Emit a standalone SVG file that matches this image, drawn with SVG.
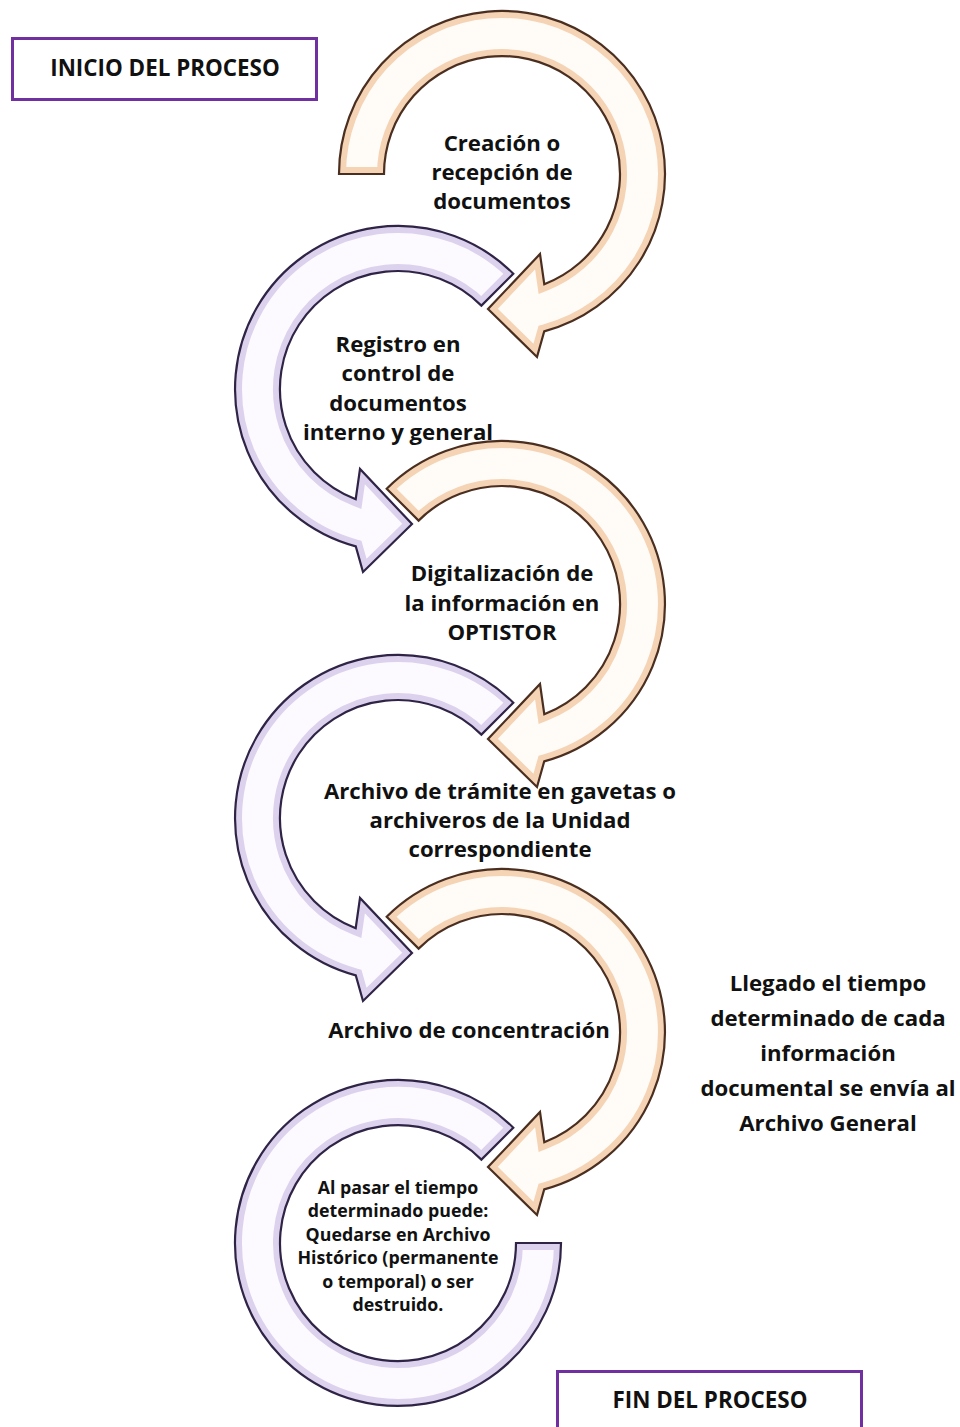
<svg xmlns="http://www.w3.org/2000/svg" xmlns:xlink="http://www.w3.org/1999/xlink" width="960" height="1427" viewBox="0 0 960 1427">
<style>
.t{font-family:"Open Sans","Noto Sans","Liberation Sans",sans-serif;font-weight:700;fill:#111;text-anchor:middle}
.m{font-size:22.2px}
.h{font-size:22.4px}
.s{font-size:17.8px}
.box{fill:#fff;stroke:#7030a0;stroke-width:3}
.oF{fill:#fffbf7}
.oG{fill:none;stroke:#f5d3b5;stroke-width:14}
.oS{fill:none;stroke:#4a2e20;stroke-width:2.2;stroke-linejoin:miter}
.pF{fill:#fcfaff}
.pG{fill:none;stroke:#ddd2ee;stroke-width:14}
.pS{fill:none;stroke:#2f2446;stroke-width:2.2;stroke-linejoin:miter}
</style>
<defs>
<path id="shA" d="M -163 0 A 163 163 0 1 1 42.2 157.4 L 35 183 L -14 135 L 38 80 L 42.3 110.2 A 118 118 0 1 0 -118 0 Z"/>
<path id="shB" d="M -115.3 -115.3 A 163 163 0 1 1 42.2 157.4 L 35 183 L -14 135 L 38 80 L 42.3 110.2 A 118 118 0 1 0 -83.4 -83.4 Z"/>
<path id="shC" d="M 115.3 -115.3 A 163 163 0 1 0 163 0 L 118 0 A 118 118 0 1 1 83.4 -83.4 Z"/>
<clipPath id="cA"><use xlink:href="#shA" href="#shA"/></clipPath>
<clipPath id="cB"><use xlink:href="#shB" href="#shB"/></clipPath>
<clipPath id="cC"><use xlink:href="#shC" href="#shC"/></clipPath>
</defs>
<rect width="960" height="1427" fill="#fff"/>
<g id="connectors">
<g id="arrow1" transform="translate(502,174)">
<use href="#shA" class="oF"/><use href="#shA" class="oG" clip-path="url(#cA)"/><use href="#shA" class="oS"/>
</g>
<g id="arrow2" transform="translate(398,389) scale(-1,1)">
<use href="#shB" class="pF"/><use href="#shB" class="pG" clip-path="url(#cB)"/><use href="#shB" class="pS"/>
</g>
<g id="arrow3" transform="translate(502,604)">
<use href="#shB" class="oF"/><use href="#shB" class="oG" clip-path="url(#cB)"/><use href="#shB" class="oS"/>
</g>
<g id="arrow4" transform="translate(398,818) scale(-1,1)">
<use href="#shB" class="pF"/><use href="#shB" class="pG" clip-path="url(#cB)"/><use href="#shB" class="pS"/>
</g>
<g id="arrow5" transform="translate(502,1032)">
<use href="#shB" class="oF"/><use href="#shB" class="oG" clip-path="url(#cB)"/><use href="#shB" class="oS"/>
</g>
<g id="arrow6" transform="translate(398,1243)">
<use href="#shC" class="pF"/><use href="#shC" class="pG" clip-path="url(#cC)"/><use href="#shC" class="pS"/>
</g>
</g>
<g id="inicio">
<rect class="box" x="12.5" y="38.5" width="304" height="61"/>
<text class="t h" x="165" y="76">INICIO DEL PROCESO</text>
</g>
<g id="step1">
<text class="t m"><tspan x="502" y="151">Creación o</tspan><tspan x="502" y="180">recepción de</tspan><tspan x="502" y="209">documentos</tspan></text>
</g>
<g id="step2">
<text class="t m"><tspan x="398" y="352">Registro en</tspan><tspan x="398" y="381">control de</tspan><tspan x="398" y="411">documentos</tspan><tspan x="398" y="440">interno y general</tspan></text>
</g>
<g id="step3">
<text class="t m"><tspan x="502" y="581">Digitalización de</tspan><tspan x="502" y="611">la información en</tspan><tspan x="502" y="640">OPTISTOR</tspan></text>
</g>
<g id="step4">
<text class="t m"><tspan x="500" y="799">Archivo de trámite en gavetas o</tspan><tspan x="500" y="828">archiveros de la Unidad</tspan><tspan x="500" y="857">correspondiente</tspan></text>
</g>
<g id="step5">
<text class="t m" x="469" y="1038">Archivo de concentración</text>
</g>
<g id="note">
<text class="t m"><tspan x="828" y="991">Llegado el tiempo</tspan><tspan x="828" y="1026">determinado de cada</tspan><tspan x="828" y="1061">información</tspan><tspan x="828" y="1096">documental se envía al</tspan><tspan x="828" y="1131">Archivo General</tspan></text>
</g>
<g id="step6">
<text class="t s"><tspan x="398" y="1194">Al pasar el tiempo</tspan><tspan x="398" y="1217">determinado puede:</tspan><tspan x="398" y="1241">Quedarse en Archivo</tspan><tspan x="398" y="1264">Histórico (permanente</tspan><tspan x="398" y="1288">o temporal) o ser</tspan><tspan x="398" y="1311">destruido.</tspan></text>
</g>
<g id="fin">
<rect class="box" x="557.5" y="1371.5" width="304" height="70"/>
<text class="t h" x="710" y="1408">FIN DEL PROCESO</text>
</g>
</svg>
